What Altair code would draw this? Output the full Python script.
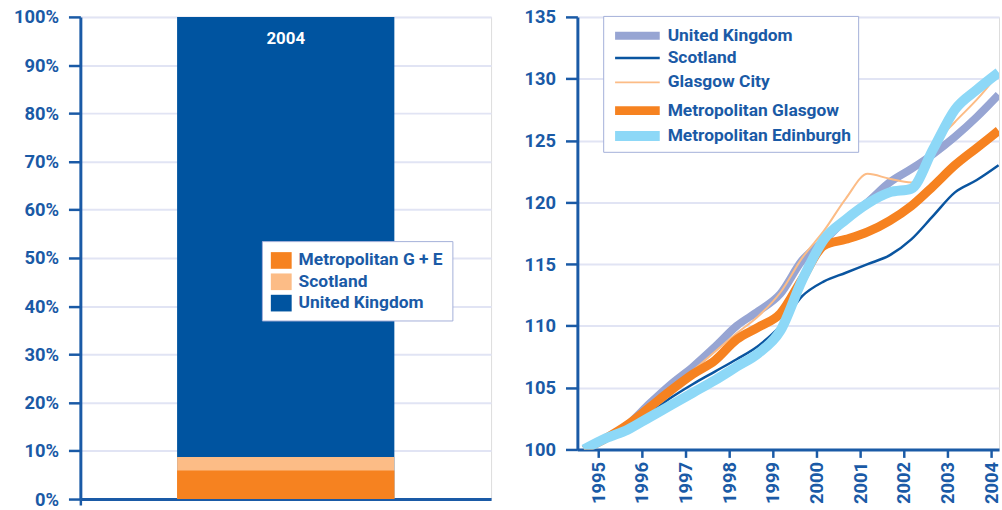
import altair as alt
import pandas as pd

# ---- Left panel: share of UK population, 2004 ----
share_year = "2004"
share_groups = ["United Kingdom", "Scotland", "Metropolitan G + E"]
share_values = [1.0, 0.087, 0.059]

bar_legend_order = ["Metropolitan G + E", "Scotland", "United Kingdom"]
bar_colors = ["#f68220", "#fcbc86", "#0054a0"]

# ---- Right panel: population index (start = 100), half-yearly ----
periods = [1994.67 + 0.5 * i for i in range(20)]
series_names = [
    "United Kingdom",
    "Scotland",
    "Glasgow City",
    "Metropolitan Glasgow",
    "Metropolitan Edinburgh",
]
uk = [100.0, 100.9, 102.0, 103.7, 105.3, 106.7, 108.3, 110.0, 111.2, 112.6,
      115.3, 116.9, 118.6, 120.0, 121.6, 122.7, 123.9, 125.3, 126.9, 128.7]
scotland = [100.0, 100.8, 101.7, 102.9, 104.2, 105.3, 106.3, 107.3, 108.4, 110.0,
            112.4, 113.6, 114.3, 115.0, 115.7, 117.0, 118.9, 120.8, 121.8, 123.0]
glasgow_city = [100.0, 100.9, 102.0, 103.6, 105.0, 106.4, 107.9, 109.4, 110.8, 112.7,
                115.5, 117.7, 120.3, 122.3, 121.9, 121.6, 124.5, 126.5, 128.3, 130.4]
metro_glasgow = [100.0, 100.9, 102.0, 103.4, 104.8, 106.1, 107.2, 108.9, 109.9, 111.0,
                 113.8, 116.5, 117.0, 117.6, 118.5, 119.7, 121.3, 123.0, 124.4, 125.8]
metro_edinburgh = [100.0, 100.9, 101.6, 102.6, 103.6, 104.6, 105.6, 106.7, 107.8, 109.6,
                   113.7, 117.0, 118.6, 119.9, 120.8, 121.1, 124.3, 127.5, 129.1, 130.5]

line_colors = ["#97a5d3", "#0a55a0", "#fcbc86", "#f68220", "#8dd8f7"]
line_widths = [8, 2.5, 2, 9, 10]

BLUE = "#1a5aa6"
GRID = "#e1e4f4"
FONT = "Roboto"

share_df = pd.DataFrame({
    "year": [share_year] * len(share_groups),
    "group": share_groups,
    "share": share_values,
    "draw": list(range(len(share_groups))),
})

rows = []
for name, vals in zip(series_names,
                      [uk, scotland, glasgow_city, metro_glasgow, metro_edinburgh]):
    for p, v in zip(periods, vals):
        rows.append({"series": name, "period": p, "index": v})
index_df = pd.DataFrame(rows)

axis_style = dict(
    domainColor=BLUE, domainWidth=3, tickColor=BLUE, tickWidth=2.5,
    labelColor=BLUE, labelFont=FONT, labelFontSize=18.5, labelFontWeight="bold",
    gridColor=GRID, gridWidth=2, title=None,
)

# Bars drawn from zero, largest first, so smaller groups sit in front
bars = alt.Chart(share_df).mark_bar(size=219).encode(
    x=alt.X("year:N",
            scale=alt.Scale(paddingInner=0, paddingOuter=0),
            axis=alt.Axis(labels=False, bandPosition=0, tickSize=6, grid=False,
                          **axis_style)),
    y=alt.Y("share:Q", stack=None,
            scale=alt.Scale(domain=[0, 1], nice=False),
            axis=alt.Axis(format=".0%", values=[i / 10 for i in range(11)],
                          tickSize=12, labelPadding=10, grid=True,
                          minExtent=68, maxExtent=68, **axis_style)),
    color=alt.Color("group:N",
                    scale=alt.Scale(domain=bar_legend_order, range=bar_colors),
                    legend=alt.Legend(
                        title=None, orient="none", legendX=183, legendY=226,
                        padding=9, rowPadding=2.5,
                        symbolType="M-1,-0.8H1V0.8H-1Z", symbolSize=441,
                        symbolStrokeWidth=0, labelOffset=7,
                        labelFont=FONT, labelFontSize=17.5, labelFontWeight="bold",
                        labelColor=BLUE, labelLimit=300,
                        fillColor="white", strokeColor="#a3afd9")),
    order=alt.Order("draw:Q"),
)

year_label = alt.Chart(share_df).transform_filter(
    alt.datum.group == "United Kingdom"
).mark_text(color="white", font=FONT, fontSize=17, fontWeight="bold",
            baseline="top", dy=14).encode(
    x="year:N", y="share:Q", text="year:N"
)

left = alt.layer(bars, year_label).properties(width=414, height=486)

line_legend = alt.Legend(
    title=None, orient="none", legendX=26, legendY=-1,
    padding=7, rowPadding=2, gridAlign="all",
    symbolType="M-1,0H4", symbolSize=324, labelOffset=30,
    labelFont=FONT, labelFontSize=17.5, labelFontWeight="bold",
    labelColor=BLUE, labelLimit=300, labelExpr="datum.label + ' '",
    fillColor="white", strokeColor="#a3afd9",
)

lines = alt.Chart(index_df).mark_line(
    interpolate="monotone", clip=True, strokeJoin="round"
).encode(
    x=alt.X("period:Q",
            scale=alt.Scale(domain=[1994.52, 2004.18], nice=False, zero=False),
            axis=alt.Axis(values=list(range(1995, 2005)), format="d",
                          labelAngle=270, tickSize=8, labelPadding=4,
                          grid=False, **axis_style)),
    y=alt.Y("index:Q",
            scale=alt.Scale(domain=[100, 135], nice=False, zero=False),
            axis=alt.Axis(values=list(range(100, 136, 5)), tickSize=12,
                          labelPadding=10, grid=True,
                          minExtent=52, maxExtent=52, **axis_style)),
    color=alt.Color("series:N",
                    scale=alt.Scale(domain=series_names, range=line_colors),
                    legend=line_legend),
    strokeWidth=alt.StrokeWidth("series:N",
                                scale=alt.Scale(type="ordinal", domain=series_names,
                                                range=line_widths),
                                legend=line_legend),
)

right = lines.properties(width=425, height=436)

chart = alt.hconcat(left, right, spacing=31).resolve_scale(
    color="independent", strokeWidth="independent"
).resolve_legend(
    color="independent", strokeWidth="independent"
).properties(
    padding={"left": 12, "top": 5, "right": 0, "bottom": 0}
).configure_view(strokeWidth=0).configure(background="white")

# Round joins on the line-legend symbols keep their bounds to the stroke
# width, so the legend rows stay compact.
legend_patch = [{
    "op": "add",
    "path": "/marks/1/legends/0/encode",
    "value": {"symbols": {"update": {
        "strokeJoin": {"value": "round"},
        "fill": {"value": "transparent"},
    }}},
}]

chart.save("out.html", embed_options={"renderer": "svg", "actions": False,
                                      "patch": legend_patch})
